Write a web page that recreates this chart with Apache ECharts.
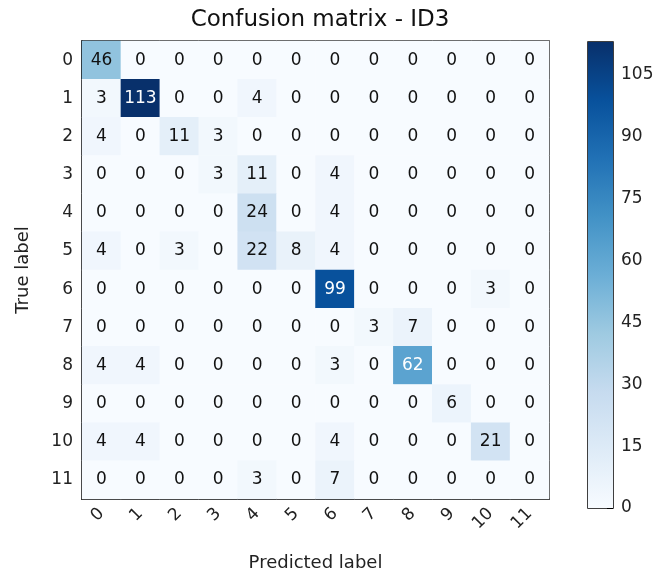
<!DOCTYPE html>
<html>
<head>
<meta charset="utf-8">
<script src="https://cdn.jsdelivr.net/npm/echarts@6/dist/echarts.min.js"></script>
<style>
html,body{margin:0;padding:0;background:#fff;}
#chart{width:658px;height:577px;}
</style>
</head>
<body>
<div id="chart"></div>
<script>
const titleText = 'Confusion matrix - ID3';
const classLabels = ['0','1','2','3','4','5','6','7','8','9','10','11'];
const row0  = [46, 0, 0, 0, 0, 0, 0, 0, 0, 0, 0, 0];
const row1  = [3, 113, 0, 0, 4, 0, 0, 0, 0, 0, 0, 0];
const row2  = [4, 0, 11, 3, 0, 0, 0, 0, 0, 0, 0, 0];
const row3  = [0, 0, 0, 3, 11, 0, 4, 0, 0, 0, 0, 0];
const row4  = [0, 0, 0, 0, 24, 0, 4, 0, 0, 0, 0, 0];
const row5  = [4, 0, 3, 0, 22, 8, 4, 0, 0, 0, 0, 0];
const row6  = [0, 0, 0, 0, 0, 0, 99, 0, 0, 0, 3, 0];
const row7  = [0, 0, 0, 0, 0, 0, 0, 3, 7, 0, 0, 0];
const row8  = [4, 4, 0, 0, 0, 0, 3, 0, 62, 0, 0, 0];
const row9  = [0, 0, 0, 0, 0, 0, 0, 0, 0, 6, 0, 0];
const row10 = [4, 4, 0, 0, 0, 0, 4, 0, 0, 0, 21, 0];
const row11 = [0, 0, 0, 0, 3, 0, 7, 0, 0, 0, 0, 0];
const matrix = [row0,row1,row2,row3,row4,row5,row6,row7,row8,row9,row10,row11];
const colorbarTickStep = 15;
const bluesColors = ['#f7fbff','#deebf7','#c6dbef','#9ecae1','#6baed6','#4292c6','#2171b5','#08519c','#08306b'];

const vmax = Math.max(...matrix.map(r => Math.max(...r)));
const thresh = vmax / 2;
const FONT = 'DejaVu Sans';

const heatData = [];
matrix.forEach((row, i) => {
  row.forEach((v, j) => {
    heatData.push({
      value: [j, i, v],
      label: { color: v > thresh ? '#ffffff' : '#111111' }
    });
  });
});

const chart = echarts.init(document.getElementById('chart'));
const tickStyle = { lineStyle: { color: '#000', width: 1 } };
chart.setOption({
  animation: false,
  backgroundColor: '#ffffff',
  textStyle: { fontFamily: FONT },
  title: {
    text: titleText,
    left: 315, textAlign: 'center', top: 4,
    textStyle: { fontFamily: FONT, fontSize: 23, fontWeight: 'normal', color: '#111' }
  },
  grid: [
    { left: 82, top: 41, width: 467, height: 467, show: true, borderColor: '#000', borderWidth: 1.5, backgroundColor: 'transparent' },
    { left: 588, top: 42, width: 25, height: 466, show: true, borderColor: '#000', borderWidth: 1.5, backgroundColor: 'transparent' }
  ],
  xAxis: [
    {
      type: 'category', data: classLabels, gridIndex: 0, position: 'bottom',
      axisLine: { show: true, lineStyle: { color: '#000', width: 1.5 } },
      axisTick: Object.assign({ show: true, inside: true, alignWithLabel: true, length: 5 }, tickStyle),
      axisLabel: { rotate: 45, fontSize: 17, color: '#222', margin: 12, fontFamily: FONT, interval: 0 },
      splitLine: { show: false },
      name: 'Predicted label', nameLocation: 'middle', nameGap: 55,
      nameTextStyle: { fontSize: 18, color: '#222', fontFamily: FONT }
    },
    {
      type: 'category', data: classLabels, gridIndex: 0, position: 'top',
      axisLine: { show: false },
      axisTick: Object.assign({ show: true, inside: true, alignWithLabel: true, length: 5 }, tickStyle),
      axisLabel: { show: false }, splitLine: { show: false }
    },
    {
      type: 'category', data: ['cb'], gridIndex: 1, show: false
    }
  ],
  yAxis: [
    {
      type: 'category', data: classLabels, gridIndex: 0, inverse: true, position: 'left',
      axisLine: { show: true, lineStyle: { color: '#000', width: 1.5 } },
      axisTick: Object.assign({ show: true, inside: true, alignWithLabel: true, length: 5 }, tickStyle),
      axisLabel: { fontSize: 17, color: '#222', margin: 9, fontFamily: FONT, interval: 0 },
      splitLine: { show: false },
      name: 'True label', nameLocation: 'middle', nameGap: 50, nameRotate: 90,
      nameTextStyle: { fontSize: 18, color: '#222', fontFamily: FONT }
    },
    {
      type: 'category', data: classLabels, gridIndex: 0, inverse: true, position: 'right',
      axisLine: { show: false },
      axisTick: Object.assign({ show: true, inside: true, alignWithLabel: true, length: 5 }, tickStyle),
      axisLabel: { show: false }, splitLine: { show: false }
    },
    {
      type: 'value', gridIndex: 1, position: 'right', min: 0, max: vmax, interval: colorbarTickStep,
      axisLine: { show: false },
      axisTick: Object.assign({ show: true, inside: true, length: 6 }, tickStyle),
      axisLabel: { fontSize: 17, color: '#222', margin: 8, fontFamily: FONT, showMaxLabel: false },
      splitLine: { show: false }
    }
  ],
  visualMap: {
    show: false, min: 0, max: vmax, seriesIndex: 0, dimension: 2,
    inRange: { color: bluesColors }
  },
  series: [
    {
      type: 'heatmap', xAxisIndex: 0, yAxisIndex: 0, data: heatData,
      label: { show: true, fontSize: 17, fontFamily: FONT },
      itemStyle: { borderWidth: 0 },
      emphasis: { disabled: true }
    },
    {
      type: 'bar', xAxisIndex: 2, yAxisIndex: 2, data: [vmax], barWidth: '100%',
      itemStyle: {
        color: new echarts.graphic.LinearGradient(0, 1, 0, 0,
          bluesColors.map((c, k) => ({ offset: k / (bluesColors.length - 1), color: c })))
      },
      silent: true
    }
  ]
});
</script>
</body>
</html>
